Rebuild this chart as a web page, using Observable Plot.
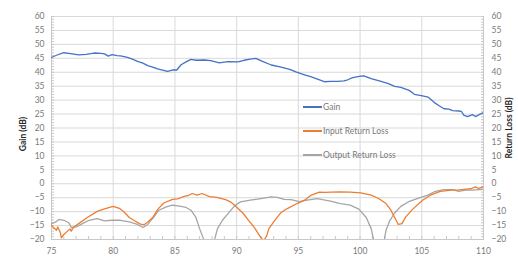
<!DOCTYPE html>
<html>
<head>
<meta charset="utf-8">
<script src="https://cdn.jsdelivr.net/npm/d3@7"></script>
<script src="https://cdn.jsdelivr.net/npm/@observablehq/plot@0.6"></script>
<style>
  html, body { margin: 0; padding: 0; background: #fff; }
  #wrap { position: relative; width: 518px; height: 260px; font-family: Lato, "Open Sans", sans-serif; }
  .lg { position: absolute; left: 303px; height: 12px; font-size: 8.5px; color: #7a7a7a; display: flex; align-items: center; white-space: nowrap; }
  .lg span.sw { display: inline-block; width: 19px; height: 2px; margin-right: 1px; }
</style>
</head>
<body>
<div id="wrap"></div>
<script>
const seriesNames = ["Gain", "Input Return Loss", "Output Return Loss"];
const seriesColors = ["#4472C4", "#ED7D31", "#A5A5A5"];

const gainFreq = [75, 75.4, 76.0, 76.4, 76.8, 77.2, 77.8, 78.45, 79.0, 79.3, 79.6, 79.9, 80.3, 80.6, 81.15, 81.6, 81.97, 82.4, 82.8, 83.2, 83.6, 84.0, 84.4, 84.8, 85.15, 85.5, 85.9, 86.3, 86.7, 87.4, 87.9, 88.6, 89.3, 90.1, 90.6, 91.1, 91.55, 92.1, 92.8, 93.6, 94.3, 94.8, 95.5, 96.0, 96.55, 97.1, 97.6, 98.2, 98.7, 99.0, 99.4, 100.06, 100.3, 100.9, 101.7, 102.3, 102.8, 103.3, 103.98, 104.4, 105.06, 105.5, 106.0, 106.4, 106.8, 107.2, 107.5, 108.0, 108.2, 108.4, 108.7, 109.1, 109.35, 109.65, 110];
const gainDb   = [45.3, 46.1, 47.0, 46.8, 46.5, 46.2, 46.4, 46.9, 46.8, 46.6, 45.8, 46.3, 46.0, 45.9, 45.3, 44.6, 43.9, 43.3, 42.4, 41.8, 41.2, 40.8, 40.3, 40.8, 40.8, 42.7, 43.7, 44.6, 44.3, 44.4, 44.2, 43.4, 43.8, 43.7, 44.3, 44.7, 45.0, 43.9, 42.6, 41.8, 41.0, 40.1, 39.1, 38.4, 37.5, 36.6, 36.7, 36.7, 36.9, 37.3, 38.1, 38.6, 38.7, 37.7, 36.7, 35.9, 34.9, 34.6, 33.5, 32.1, 31.5, 31.1, 29.2, 28.0, 26.9, 26.8, 26.2, 26.1, 26.0, 24.6, 24.1, 24.8, 24.1, 24.8, 25.6];

const inFreq = [75, 75.2, 75.4, 75.5, 75.7, 75.8, 76.0, 76.3, 76.5, 76.6, 76.8, 77.2, 77.9, 78.7, 79.3, 79.7, 80.0, 80.5, 80.9, 81.3, 81.7, 82.2, 82.5, 82.8, 83.2, 83.6, 84.1, 84.8, 85.2, 85.5, 85.75, 86.1, 86.4, 86.8, 87.2, 87.8, 88.4, 89.1, 89.5, 89.9, 90.5, 91.0, 91.4, 91.7, 91.96, 92.2, 92.45, 92.6, 93.0, 93.6, 94.1, 94.9, 95.5, 96.0, 96.7, 97.2, 97.6, 98.4, 99.2, 100.06, 100.9, 101.5, 102.1, 102.5, 102.8, 103.1, 103.4, 103.7, 104.25, 105.06, 105.7, 106.5, 107.4, 107.9, 108.4, 109.0, 109.35, 109.6, 110];
const inDb   = [-14.9, -15.9, -16.7, -15.5, -17.3, -19.4, -18.2, -17.0, -16.2, -17.0, -15.5, -14.3, -12.1, -9.9, -9.0, -8.5, -8.1, -8.8, -10.2, -12.1, -13.2, -14.5, -14.7, -13.7, -12.1, -9.2, -6.9, -5.6, -5.4, -5.0, -4.5, -4.2, -3.5, -4.1, -3.5, -4.6, -4.9, -5.7, -6.5, -8.0, -10.5, -13.3, -15.5, -17.5, -19.3, -20.5, -18.5, -16.2, -13.7, -10.3, -8.9, -7.1, -5.9, -4.2, -3.0, -3.1, -3.0, -2.9, -3.0, -3.3, -4.1, -5.3, -7.1, -9.5, -12.1, -14.6, -14.3, -11.9, -9.2, -5.9, -4.1, -2.7, -2.3, -2.3, -2.0, -1.8, -1.1, -1.7, -1.1];

const outFreq = [75, 75.35, 75.6, 76.0, 76.4, 76.6, 77.0, 77.5, 78.05, 78.7, 79.3, 79.9, 80.6, 81.3, 81.97, 82.4, 82.8, 83.3, 83.7, 84.3, 84.8, 85.5, 85.9, 86.3, 86.7, 87.0, 87.3, 87.8, 88.2, 88.45, 88.85, 89.3, 89.8, 90.3, 91.1, 91.96, 92.8, 93.3, 93.85, 94.4, 95.1, 95.7, 96.55, 96.96, 97.6, 98.4, 99.2, 99.9, 100.5, 100.9, 101.1, 101.5, 101.95, 102.1, 102.4, 102.8, 103.3, 104.0, 104.8, 105.5, 106.1, 106.8, 107.5, 108.0, 108.55, 109.1, 110];
const outDb   = [-14.3, -13.7, -12.8, -13.1, -14.0, -15.7, -15.5, -14.3, -13.1, -12.5, -13.3, -13.1, -13.1, -13.7, -14.6, -15.7, -14.6, -11.9, -9.5, -8.3, -7.7, -8.1, -8.5, -9.5, -12.1, -16.1, -19.6, -26, -20.2, -16.1, -13.1, -10.7, -8.1, -6.5, -5.9, -5.3, -4.7, -4.9, -5.6, -5.7, -6.4, -5.9, -5.3, -5.7, -6.2, -7.1, -7.7, -9.1, -12.1, -16.1, -20.2, -26, -20.5, -16.7, -13.3, -10.5, -8.1, -6.3, -5.1, -4.1, -2.7, -2.1, -2.1, -2.7, -2.3, -2.3, -2.0];

const yTicks = d3.range(-20, 61, 5);
const xTicks = d3.range(75, 111, 5);
const yMinor = d3.range(-20, 61, 1);
const xMinor = d3.range(75, 111, 1);

const toRows = (fs, vs) => fs.map((f, i) => ({f, v: vs[i]}));
const gainRows = toRows(gainFreq, gainDb);
const inRows = toRows(inFreq, inDb);
const outRows = toRows(outFreq, outDb);

const font = "Lato, 'Open Sans', sans-serif";

const chart = Plot.plot({
  width: 518,
  height: 260,
  marginLeft: 51,
  marginRight: 35,
  marginTop: 16,
  marginBottom: 21,
  style: {fontFamily: font, fontSize: "8.5px", color: "#7a7a7a", background: "#fff"},
  x: {domain: [75, 110], label: null},
  y: {domain: [-20, 60], label: null},
  marks: [
    Plot.gridY(yTicks, {stroke: "#d9d9d9", strokeOpacity: 1}),
    Plot.gridX(xTicks, {stroke: "#d9d9d9", strokeOpacity: 1}),
    Plot.axisY(yMinor, {anchor: "left", tickSize: 3, dx: 3, text: null, label: null, stroke: "#c8c8c8"}),
    Plot.axisY(yMinor, {anchor: "right", tickSize: 3, dx: -3, text: null, label: null, stroke: "#c8c8c8"}),
    Plot.axisX(xMinor, {anchor: "bottom", tickSize: 3, dy: -3, text: null, label: null, stroke: "#c8c8c8"}),
    Plot.axisY(yTicks, {anchor: "left", tickSize: 0, tickPadding: 7, label: null, fill: "#7a7a7a"}),
    Plot.axisY(yTicks, {anchor: "right", tickSize: 0, tickPadding: 8, label: null, fill: "#7a7a7a"}),
    Plot.axisX(xTicks, {anchor: "bottom", tickSize: 0, tickPadding: 8, label: null, fill: "#7a7a7a"}),
    Plot.ruleX([75, 110], {stroke: "#c8c8c8"}),
    Plot.ruleY([-20], {stroke: "#c8c8c8"}),
    Plot.line(outRows, {x: "f", y: "v", stroke: seriesColors[2], strokeWidth: 1.3, clip: true}),
    Plot.line(inRows, {x: "f", y: "v", stroke: seriesColors[1], strokeWidth: 1.3, clip: true}),
    Plot.line(gainRows, {x: "f", y: "v", stroke: seriesColors[0], strokeWidth: 1.3, clip: true})
  ]
});

const wrap = document.getElementById("wrap");
wrap.appendChild(chart);

// axis titles
const svg = d3.select(chart);
svg.append("text")
  .attr("transform", "translate(26,134) rotate(-90)")
  .attr("text-anchor", "middle")
  .attr("font-weight", "bold")
  .attr("font-size", "8.5px")
  .attr("fill", "#262626")
  .text("Gain (dB)");
svg.append("text")
  .attr("transform", "translate(512,128) rotate(-90)")
  .attr("text-anchor", "middle")
  .attr("font-weight", "bold")
  .attr("font-size", "8.5px")
  .attr("fill", "#262626")
  .text("Return Loss (dB)");

// legend (HTML overlay inside the plot area)
const legendTops = [101, 125, 149];
seriesNames.forEach((n, i) => {
  const row = document.createElement("div");
  row.className = "lg";
  row.style.top = legendTops[i] + "px";
  const sw = document.createElement("span");
  sw.className = "sw";
  sw.style.background = seriesColors[i];
  row.appendChild(sw);
  row.appendChild(document.createTextNode(n));
  wrap.appendChild(row);
});
</script>
</body>
</html>
